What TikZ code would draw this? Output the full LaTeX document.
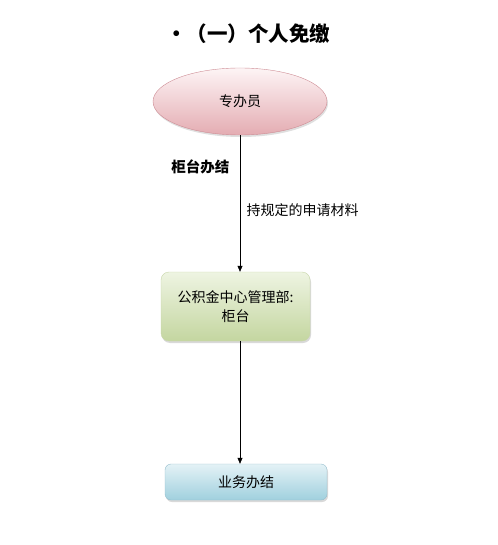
\documentclass[tikz,border=0pt]{standalone}
\usepackage{fontspec}
\setmainfont{Noto Sans CJK SC}
\usetikzlibrary{positioning,arrows.meta,shapes.geometric,shadows}

\definecolor{pinkhi}{RGB}{253,244,245}
\definecolor{pinklo}{RGB}{228,172,178}
\definecolor{pinkline}{RGB}{205,140,148}
\definecolor{greenhi}{RGB}{238,244,226}
\definecolor{greenlo}{RGB}{196,214,160}
\definecolor{greenline}{RGB}{200,214,170}
\definecolor{bluehi}{RGB}{228,242,246}
\definecolor{bluelo}{RGB}{160,208,222}
\definecolor{blueline}{RGB}{150,190,205}

\begin{document}
\begin{tikzpicture}[
  x=1pt, y=-1pt,
  every node/.style={font=\fontsize{14}{19}\selectfont},
  person/.style={ellipse, draw=pinkline, top color=pinkhi, bottom color=pinklo, minimum width=174pt, minimum height=67pt, drop shadow={opacity=0.25, shadow xshift=1pt, shadow yshift=-2pt}},
  office/.style={draw=greenline, rounded corners=8pt, top color=greenhi, bottom color=greenlo, minimum width=149pt, minimum height=69pt, align=center, drop shadow={opacity=0.3, shadow xshift=1pt, shadow yshift=-2pt}},
  done/.style={draw=blueline, rounded corners=6pt, top color=bluehi, bottom color=bluelo, minimum width=162pt, minimum height=36pt, drop shadow={opacity=0.3, shadow xshift=1pt, shadow yshift=-2pt}},
  arrow/.style={-{Triangle[length=6pt, width=5pt]}, semithick}
]
\useasboundingbox (0,0) rectangle (497,545);

\node[font=\fontsize{20.5}{24}\selectfont\bfseries] (title) at (248,34) {•（一）个人免缴};

\node[person] (staff)  at (240,101.5) {专办员};
\node[office] (center) at (235.5,306.5) {公积金中心管理部:\\柜台};
\node[done]   (finish) at (246,482)   {业务办结};

\draw[arrow] (staff) -- (staff |- center.north)
  node[pos=0.23, anchor=east, xshift=-7pt, font=\fontsize{14.5}{19}\selectfont\bfseries] (counter) {柜台办结}
  node[pos=0.55, anchor=west, xshift=3pt] (docs) {持规定的申请材料};
\draw[arrow] (staff |- center.south) -- (staff |- finish.north);
\end{tikzpicture}
\end{document}
